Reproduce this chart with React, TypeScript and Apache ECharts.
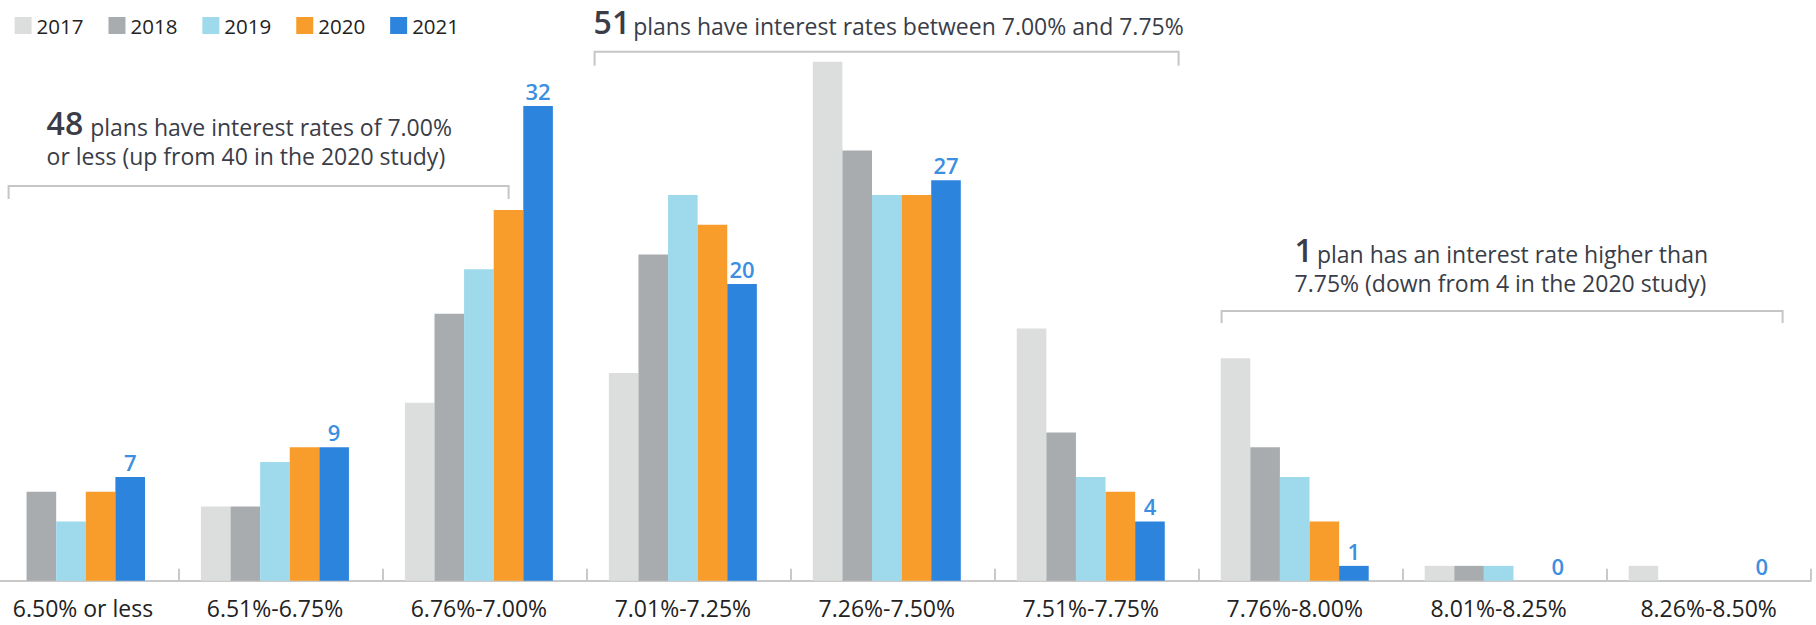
import React, { useEffect, useRef } from "react";
import * as echarts from "echarts";

const categories = [
  "6.50% or less",
  "6.51%-6.75%",
  "6.76%-7.00%",
  "7.01%-7.25%",
  "7.26%-7.50%",
  "7.51%-7.75%",
  "7.76%-8.00%",
  "8.01%-8.25%",
  "8.26%-8.50%",
];
const years = ["2017", "2018", "2019", "2020", "2021"];
const v2017 = [0, 5, 12, 14, 35, 17, 15, 1, 1];
const v2018 = [6, 5, 18, 22, 29, 10, 9, 1, 0];
const v2019 = [4, 8, 21, 26, 26, 7, 7, 1, 0];
const v2020 = [6, 9, 25, 24, 26, 6, 4, 0, 0];
const v2021 = [7, 9, 32, 20, 27, 4, 1, 0, 0];
const seriesValues = [v2017, v2018, v2019, v2020, v2021];
const colors = ["#dcdedd", "#a9acaf", "#9fd9ec", "#f89c2b", "#2c84dc"];

const note1Big = "48";
const note1Line1 = "plans have interest rates of 7.00%";
const note1Line2 = "or less (up from 40 in the 2020 study)";
const note2Big = "51";
const note2Line1 = "plans have interest rates between 7.00% and 7.75%";
const note3Big = "1";
const note3Line1 = "plan has an interest rate higher than";
const note3Line2 = "7.75% (down from 4 in the 2020 study)";

const FONT = '"Open Sans", "Noto Sans", sans-serif';
const TXT = "#3a3d47";
const BRACKET = "#c6c6c6";
// the chart canvas starts left of the page so the first category can be partly off-page
const SHIFT = 24.6;

function bracket(x1: number, x2: number, y: number, drop: number) {
  return {
    type: "polyline",
    shape: {
      points: [
        [x1 + SHIFT, y + drop],
        [x1 + SHIFT, y],
        [x2 + SHIFT, y],
        [x2 + SHIFT, y + drop],
      ],
    },
    style: { stroke: BRACKET, lineWidth: 2, fill: "none" },
    silent: true,
  };
}

function note(big: string, line1: string, line2: string | null, x: number, top: number, gap: number) {
  const text =
    "{big|" + big + "}{body|" + line1 + "}" + (line2 ? "\n{body2|" + line2 + "}" : "");
  return {
    type: "text",
    x: x + SHIFT,
    y: top,
    silent: true,
    style: {
      text,
      align: "left",
      verticalAlign: "top",
      fill: TXT,
      fontFamily: FONT,
      rich: {
        big: {
          fontSize: 32,
          fontWeight: 600,
          fontFamily: FONT,
          color: TXT,
          lineHeight: 30,
          verticalAlign: "bottom",
          padding: [0, gap, 0, 0],
        },
        body: {
          fontSize: 23,
          fontFamily: FONT,
          color: TXT,
          lineHeight: 23,
          verticalAlign: "bottom",
        },
        body2: {
          fontSize: 23,
          fontFamily: FONT,
          color: TXT,
          lineHeight: 29,
          verticalAlign: "bottom",
        },
      },
    },
  };
}

export default function App() {
  const ref = useRef<HTMLDivElement>(null);
  useEffect(() => {
    if (!ref.current) return;
    const chart = echarts.init(ref.current, null, { renderer: "svg" });
    const barSeries: any[] = years.map((y, i) => ({
      name: y,
      type: "bar",
      data: seriesValues[i],
      barWidth: 29.6,
      barGap: "0%",
      itemStyle: { color: colors[i] },
      label:
        i === 4
          ? {
              show: true,
              position: "top",
              distance: 4,
              color: "#3b8fe0",
              fontSize: 22,
              fontWeight: 600,
              fontFamily: FONT,
            }
          : { show: false },
    }));
    barSeries.push({
      name: "spacer",
      type: "bar",
      data: [],
      barWidth: 12,
      barGap: "0%",
      silent: true,
      itemStyle: { color: "transparent" },
    });
    const xData = categories.map((c, i) => {
      if (i === 0) return { value: c, textStyle: { padding: [0, 0, 0, 12] } };
      if (i === categories.length - 1) return { value: c, textStyle: { padding: [0, 0, 0, 0] } };
      return c;
    });
    chart.setOption({
      animation: false,
      backgroundColor: "#ffffff",
      legend: {
        data: years,
        left: 10 + SHIFT,
        top: 10,
        itemWidth: 17,
        itemHeight: 17,
        itemGap: 25,
        icon: "rect",
        selectedMode: false,
        textStyle: { fontSize: 20.5, color: "#222", fontFamily: FONT },
      },
      grid: { left: 0, right: 5.4, top: 46.8, bottom: 44.3, containLabel: false },
      xAxis: {
        type: "category",
        data: xData,
        axisLine: { lineStyle: { color: "#c9c9c9", width: 2 } },
        axisTick: { show: true, inside: true, length: 12, lineStyle: { color: "#c9c9c9", width: 2 } },
        axisLabel: {
          interval: 0,
          fontSize: 23,
          lineHeight: 23,
          color: "#222",
          fontFamily: FONT,
          margin: 16,
          padding: [0, 12, 0, 0],
        },
      },
      yAxis: { type: "value", min: 0, max: 36, show: false },
      series: barSeries,
      graphic: [
        bracket(9, 509, 186, 13),
        note(note1Big, note1Line1, note1Line2, 47, 108.8, 7),
        bracket(595, 1179, 51.7, 14),
        note(note2Big, note2Line1, null, 594, 7.5, 3),
        bracket(1222, 1783, 311, 12),
        note(note3Big, note3Line1, note3Line2, 1295, 235, 4),
      ],
    });
    return () => chart.dispose();
  }, []);
  return (
    <div
      ref={ref}
      style={{ position: "absolute", left: -SHIFT, top: 0, width: 1816 + SHIFT, height: 625 }}
    />
  );
}
